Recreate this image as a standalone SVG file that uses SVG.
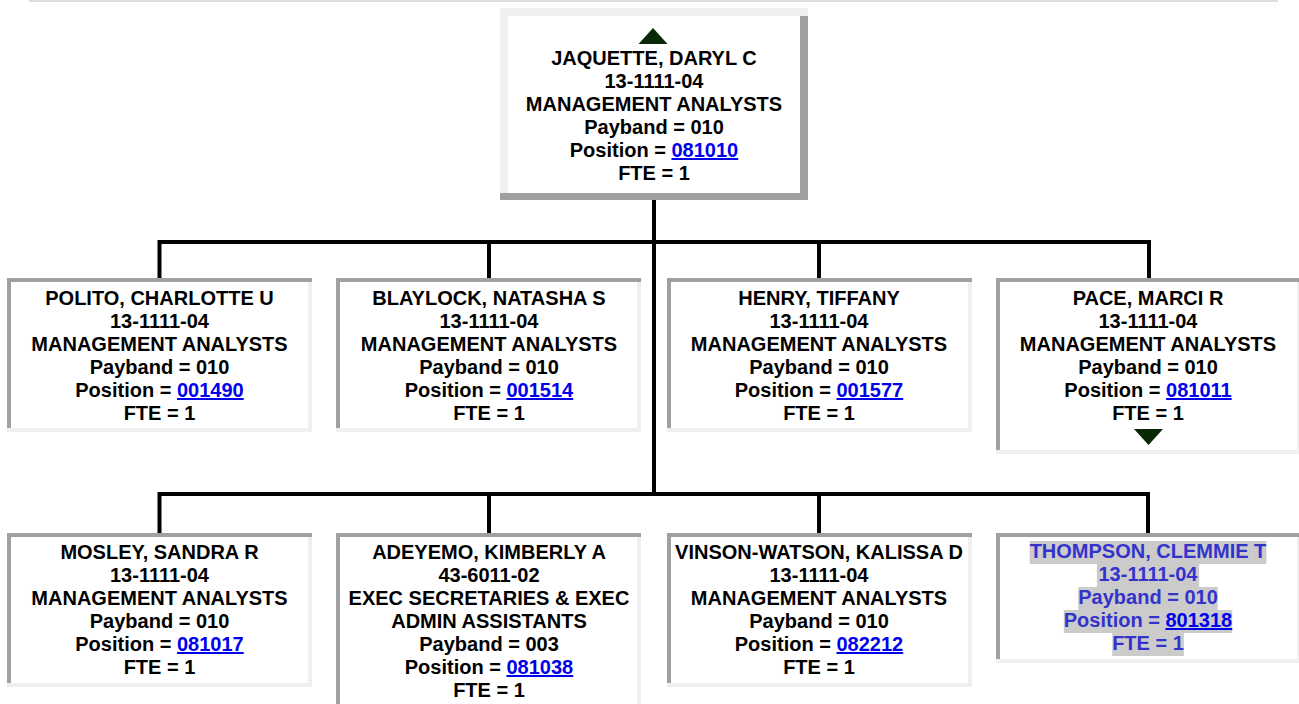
<svg xmlns="http://www.w3.org/2000/svg" width="1299" height="704" viewBox="0 0 1299 704">
<style>
  text { font-family: "Liberation Sans", Arial, sans-serif; font-weight: bold; font-size: 20px; text-anchor: middle; fill: #000; }
  .lnk { fill: #0000ee; text-decoration: underline; }
  .dim text { fill: #3333cc; }
  .dim .lnk { fill: #0000ee; }
  .hl { fill: #cbcbcb; }
  .bd { fill: #a0a0a0; }
  .bl { fill: #efefef; }
  .bg { fill: #ffffff; }
  .tri { fill: #082808; }
  .conn { fill: none; stroke: #000; stroke-width: 4; stroke-linejoin: miter; stroke-linecap: butt; }
</style>
<rect x="29" y="0" width="1249" height="2" fill="#dddddd"/>

<g id="connectors">
  <path class="conn" d="M654 200 V496"/>
  <path class="conn" d="M159.5 280 V242 H1149 V280"/>
  <path class="conn" d="M489 242 V280"/>
  <path class="conn" d="M819 242 V280"/>
  <path class="conn" d="M159.5 535 V494 H1148 V535"/>
  <path class="conn" d="M489 494 V535"/>
  <path class="conn" d="M819 494 V535"/>
</g>

<g id="node-root">
  <rect class="bg" x="500" y="8" width="308" height="192"/>
  <rect class="bl" x="500" y="8" width="308" height="8"/>
  <rect class="bl" x="500" y="16" width="8" height="177"/>
  <rect class="bd" x="800" y="16" width="8" height="184"/>
  <rect class="bd" x="500" y="193" width="308" height="7"/>
  <polygon class="tri" points="638.5,44 667.5,44 653,28"/>
  <text x="654" y="65">JAQUETTE, DARYL C</text>
  <text x="654" y="88">13-1111-04</text>
  <text x="654" y="111">MANAGEMENT ANALYSTS</text>
  <text x="654" y="134">Payband = 010</text>
  <text x="654" y="157">Position = <tspan class="lnk">081010</tspan></text>
  <text x="654" y="180">FTE = 1</text>
</g>

<g id="node-polito">
  <rect class="bg" x="7" y="278" width="305" height="154"/>
  <rect class="bd" x="7" y="278" width="305" height="4"/>
  <rect class="bd" x="7" y="278" width="4" height="150"/>
  <rect class="bl" x="308" y="282" width="4" height="150"/>
  <rect class="bl" x="7" y="428" width="305" height="4"/>
  <text x="159.5" y="305">POLITO, CHARLOTTE U</text>
  <text x="159.5" y="328">13-1111-04</text>
  <text x="159.5" y="351">MANAGEMENT ANALYSTS</text>
  <text x="159.5" y="374">Payband = 010</text>
  <text x="159.5" y="397">Position = <tspan class="lnk">001490</tspan></text>
  <text x="159.5" y="420">FTE = 1</text>
</g>

<g id="node-blaylock">
  <rect class="bg" x="336" y="278" width="305" height="154"/>
  <rect class="bd" x="336" y="278" width="305" height="4"/>
  <rect class="bd" x="336" y="278" width="4" height="150"/>
  <rect class="bl" x="637" y="282" width="4" height="150"/>
  <rect class="bl" x="336" y="428" width="305" height="4"/>
  <text x="489" y="305">BLAYLOCK, NATASHA S</text>
  <text x="489" y="328">13-1111-04</text>
  <text x="489" y="351">MANAGEMENT ANALYSTS</text>
  <text x="489" y="374">Payband = 010</text>
  <text x="489" y="397">Position = <tspan class="lnk">001514</tspan></text>
  <text x="489" y="420">FTE = 1</text>
</g>

<g id="node-henry">
  <rect class="bg" x="667" y="278" width="305" height="154"/>
  <rect class="bd" x="667" y="278" width="305" height="4"/>
  <rect class="bd" x="667" y="278" width="4" height="150"/>
  <rect class="bl" x="968" y="282" width="4" height="150"/>
  <rect class="bl" x="667" y="428" width="305" height="4"/>
  <text x="819" y="305">HENRY, TIFFANY</text>
  <text x="819" y="328">13-1111-04</text>
  <text x="819" y="351">MANAGEMENT ANALYSTS</text>
  <text x="819" y="374">Payband = 010</text>
  <text x="819" y="397">Position = <tspan class="lnk">001577</tspan></text>
  <text x="819" y="420">FTE = 1</text>
</g>

<g id="node-pace">
  <rect class="bg" x="996" y="278" width="305" height="176"/>
  <rect class="bd" x="996" y="278" width="305" height="4"/>
  <rect class="bd" x="996" y="278" width="4" height="172"/>
  <rect class="bl" x="1297" y="282" width="4" height="172"/>
  <rect class="bl" x="996" y="450" width="305" height="4"/>
  <text x="1148" y="305">PACE, MARCI R</text>
  <text x="1148" y="328">13-1111-04</text>
  <text x="1148" y="351">MANAGEMENT ANALYSTS</text>
  <text x="1148" y="374">Payband = 010</text>
  <text x="1148" y="397">Position = <tspan class="lnk">081011</tspan></text>
  <text x="1148" y="420">FTE = 1</text>
  <polygon class="tri" points="1134,429 1163,429 1148.5,445"/>
</g>

<g id="node-mosley">
  <rect class="bg" x="7" y="533" width="305" height="154"/>
  <rect class="bd" x="7" y="533" width="305" height="4"/>
  <rect class="bd" x="7" y="533" width="4" height="150"/>
  <rect class="bl" x="308" y="537" width="4" height="150"/>
  <rect class="bl" x="7" y="683" width="305" height="4"/>
  <text x="159.5" y="559">MOSLEY, SANDRA R</text>
  <text x="159.5" y="582">13-1111-04</text>
  <text x="159.5" y="605">MANAGEMENT ANALYSTS</text>
  <text x="159.5" y="628">Payband = 010</text>
  <text x="159.5" y="651">Position = <tspan class="lnk">081017</tspan></text>
  <text x="159.5" y="674">FTE = 1</text>
</g>

<g id="node-adeyemo">
  <rect class="bg" x="336" y="533" width="305" height="177"/>
  <rect class="bd" x="336" y="533" width="305" height="4"/>
  <rect class="bd" x="336" y="533" width="4" height="173"/>
  <rect class="bl" x="637" y="537" width="4" height="173"/>
  <rect class="bl" x="336" y="706" width="305" height="4"/>
  <text x="489" y="559">ADEYEMO, KIMBERLY A</text>
  <text x="489" y="582">43-6011-02</text>
  <text x="489" y="605">EXEC SECRETARIES &amp; EXEC</text>
  <text x="489" y="628">ADMIN ASSISTANTS</text>
  <text x="489" y="651">Payband = 003</text>
  <text x="489" y="674">Position = <tspan class="lnk">081038</tspan></text>
  <text x="489" y="697">FTE = 1</text>
</g>

<g id="node-vinson">
  <rect class="bg" x="667" y="533" width="305" height="154"/>
  <rect class="bd" x="667" y="533" width="305" height="4"/>
  <rect class="bd" x="667" y="533" width="4" height="150"/>
  <rect class="bl" x="968" y="537" width="4" height="150"/>
  <rect class="bl" x="667" y="683" width="305" height="4"/>
  <text x="819" y="559">VINSON-WATSON, KALISSA D</text>
  <text x="819" y="582">13-1111-04</text>
  <text x="819" y="605">MANAGEMENT ANALYSTS</text>
  <text x="819" y="628">Payband = 010</text>
  <text x="819" y="651">Position = <tspan class="lnk">082212</tspan></text>
  <text x="819" y="674">FTE = 1</text>
</g>

<g id="node-thompson" class="dim">
  <rect class="bg" x="996" y="533" width="305" height="130"/>
  <rect class="bd" x="996" y="533" width="305" height="4"/>
  <rect class="bd" x="996" y="533" width="4" height="126"/>
  <rect class="bl" x="1297" y="537" width="4" height="126"/>
  <rect class="bl" x="996" y="659" width="305" height="4"/>
  <rect class="hl" x="1029.7" y="541" width="236.7" height="23"/>
  <rect class="hl" x="1096.9" y="564" width="102.3" height="23"/>
  <rect class="hl" x="1078.2" y="587" width="139.5" height="23"/>
  <rect class="hl" x="1063.8" y="610" width="168.4" height="23"/>
  <rect class="hl" x="1112.2" y="633" width="71.7" height="23"/>
  <text x="1148" y="558">THOMPSON, CLEMMIE T</text>
  <text x="1148" y="581">13-1111-04</text>
  <text x="1148" y="604">Payband = 010</text>
  <text x="1148" y="627">Position = <tspan class="lnk">801318</tspan></text>
  <text x="1148" y="650">FTE = 1</text>
</g>
</svg>
